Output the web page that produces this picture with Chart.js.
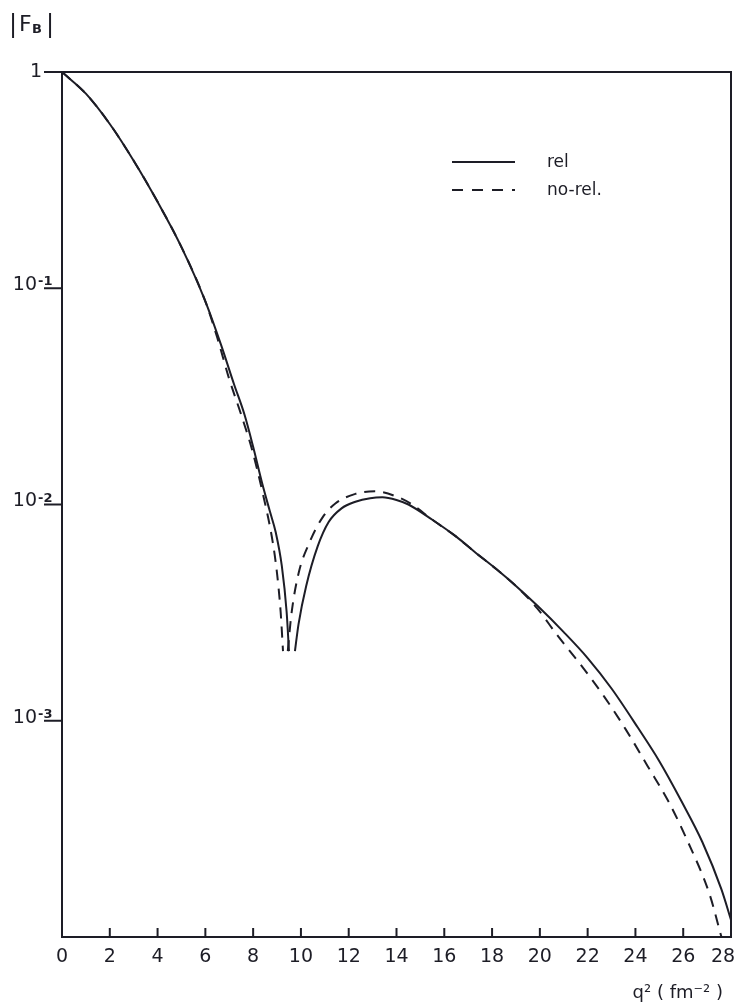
<!DOCTYPE html>
<html>
<head>
<meta charset="utf-8">
<script src="https://cdn.jsdelivr.net/npm/chart.js@4/dist/chart.umd.min.js"></script>
<style>
  html, body { margin: 0; padding: 0; background: #fff; }
  #grafico { display: block; }
</style>
</head>
<body>
<canvas id="grafico" width="734" height="1002"></canvas>
<script>
// |F_B| em função de q^2 (fm^-2), curvas relativística e não relativística

const q2Rel = [0, 1, 2, 3, 4, 5, 6, 6.65, 7.2, 7.64, 8.0, 8.38, 8.7, 8.95, 9.2, 9.4, 9.5,
    9.62, 9.75, 9.9, 10.22, 10.7, 11.16, 11.7, 12.28, 12.9, 13.41, 14.0, 14.5, 15.5, 16.5,
    17.3, 18.2, 19.0, 19.9, 21.0, 22.0, 23.0, 24.1, 25.0, 25.9, 26.8, 27.6, 28.0];
const fbRel = [1, 0.794, 0.575, 0.389, 0.251, 0.155, 0.087, 0.055, 0.036, 0.026, 0.0185, 0.0125,
    0.0093, 0.0074, 0.0052, 0.0032, 0.0021,
    null, 0.0021, 0.0028, 0.0042, 0.0064, 0.0083, 0.0096, 0.0103, 0.0107, 0.0108, 0.0105,
    0.0100, 0.0085, 0.0071, 0.0060, 0.0050, 0.0042, 0.0034, 0.00257, 0.00195, 0.00141,
    0.00093, 0.00065, 0.00043, 0.000275, 0.000166, 0.00012];

const q2NoRel = [0, 1, 2, 3, 4, 5, 6, 6.5, 7.0, 7.5, 7.95, 8.4, 8.82, 9.0, 9.15, 9.25,
    9.36, 9.45, 9.6, 9.9, 10.34, 10.9, 11.44, 12.28, 13.1, 14.08, 14.65, 15.5, 16.5, 17.3,
    18.2, 19.0, 19.9, 20.7, 21.7, 22.7, 23.6, 24.5, 25.4, 26.2, 27.1, 27.6];
const fbNoRel = [1, 0.794, 0.575, 0.389, 0.251, 0.155, 0.087, 0.059, 0.038, 0.026, 0.018, 0.0113,
    0.0067, 0.0048, 0.0032, 0.0021,
    null, 0.0021, 0.0031, 0.0048, 0.0066, 0.0087, 0.0101, 0.0112, 0.0115, 0.0108, 0.0100,
    0.0085, 0.0071, 0.0060, 0.0050, 0.0042, 0.0033, 0.00251, 0.00182, 0.00129, 0.00091,
    0.00062, 0.00042, 0.000275, 0.000158, 0.0001];

const xTicks = [0, 2, 4, 6, 8, 10, 12, 14, 16, 18, 20, 22, 24, 26, 28];
const yTicks = [1, 1e-1, 1e-2, 1e-3];
const yTickBase = ['1', '10', '10', '10'];
const yTickExp = ['', '-1', '-2', '-3'];
const legendLabels = ['rel', 'no-rel.'];

const tinta = '#1d1d26';
const fonte = '"DejaVu Sans", "Liberation Sans", sans-serif';

function pontos(xs, ys) {
    return xs.map((x, i) => ({ x: x, y: ys[i] }));
}

const decoracao = {
    id: 'decoracao',
    afterDraw(chart) {
        const ctx = chart.ctx;
        const { left, right, top, bottom } = chart.chartArea;
        const sx = chart.scales.x;
        const sy = chart.scales.y;
        ctx.save();
        ctx.strokeStyle = tinta;
        ctx.fillStyle = tinta;
        ctx.lineWidth = 2;

        // linha de cima e borda direita
        ctx.beginPath();
        ctx.moveTo(left - 12, top);
        ctx.lineTo(right, top);
        ctx.lineTo(right, bottom);
        ctx.stroke();

        // marcas e rótulos do eixo y
        yTicks.forEach((v, i) => {
            const py = sy.getPixelForValue(v);
            ctx.beginPath();
            ctx.moveTo(left - 18, py);
            ctx.lineTo(left, py);
            ctx.stroke();
            ctx.font = '19px ' + fonte;
            ctx.textBaseline = 'middle';
            if (yTickExp[i] === '') {
                ctx.textAlign = 'right';
                ctx.fillText(yTickBase[i], left - 20, py);
            } else {
                ctx.textAlign = 'right';
                ctx.fillText(yTickBase[i], left - 25, py - 3);
                ctx.font = 'bold 13px ' + fonte;
                ctx.textAlign = 'left';
                ctx.textBaseline = 'alphabetic';
                ctx.fillText(yTickExp[i], left - 24, py - 3);
            }
        });

        // marcas internas e rótulos do eixo x
        ctx.font = '19px ' + fonte;
        ctx.textAlign = 'center';
        ctx.textBaseline = 'middle';
        xTicks.forEach((v, i) => {
            const px = sx.getPixelForValue(v);
            if (v > 0 && v < 28) {
                ctx.beginPath();
                ctx.moveTo(px, bottom);
                ctx.lineTo(px, bottom - 9);
                ctx.stroke();
            }
            const desloc = i === xTicks.length - 1 ? -8 : 0;
            ctx.fillText(String(v), px + desloc, bottom + 20);
        });

        // título do eixo x
        ctx.font = '18px ' + fonte;
        ctx.textAlign = 'right';
        ctx.fillText('q² ( fm⁻² )', right - 8, bottom + 56);

        // título do eixo y
        ctx.font = '24px ' + fonte;
        ctx.textAlign = 'left';
        ctx.fillText('|', 9, 26);
        ctx.font = '22px ' + fonte;
        ctx.fillText('F', 19, 25);
        ctx.font = 'bold 13px ' + fonte;
        ctx.fillText('B', 32, 30);
        ctx.font = '24px ' + fonte;
        ctx.fillText('|', 46, 26);

        // legenda
        const lx0 = 452, lx1 = 515;
        ctx.lineWidth = 2;
        ctx.beginPath();
        ctx.moveTo(lx0, 162);
        ctx.lineTo(lx1, 162);
        ctx.stroke();
        ctx.setLineDash([11, 9]);
        ctx.beginPath();
        ctx.moveTo(lx0, 190);
        ctx.lineTo(lx1, 190);
        ctx.stroke();
        ctx.setLineDash([]);
        ctx.font = '17px ' + fonte;
        ctx.textAlign = 'left';
        ctx.fillText(legendLabels[0], 547, 163);
        ctx.fillText(legendLabels[1], 547, 191);
        ctx.restore();
    }
};

new Chart(document.getElementById('grafico'), {
    type: 'line',
    data: {
        datasets: [
            {
                label: legendLabels[0],
                data: pontos(q2Rel, fbRel),
                borderColor: tinta,
                borderWidth: 2,
                pointRadius: 0,
                cubicInterpolationMode: 'monotone',
                spanGaps: false
            },
            {
                label: legendLabels[1],
                data: pontos(q2NoRel, fbNoRel),
                borderColor: tinta,
                borderWidth: 2,
                borderDash: [11, 8],
                pointRadius: 0,
                cubicInterpolationMode: 'monotone',
                spanGaps: false
            }
        ]
    },
    options: {
        responsive: false,
        animation: false,
        devicePixelRatio: 1,
        layout: { padding: { left: 62, top: 72, right: 3, bottom: 65 } },
        plugins: { legend: { display: false }, tooltip: { enabled: false } },
        scales: {
            x: {
                type: 'linear',
                min: 0,
                max: 28,
                ticks: { display: false },
                grid: { display: false, drawTicks: false },
                border: { display: true, color: tinta, width: 2 },
                afterFit(s) { s.height = 0; s.paddingLeft = 0; s.paddingRight = 0; }
            },
            y: {
                type: 'logarithmic',
                min: 1e-4,
                max: 1,
                ticks: { display: false },
                grid: { display: false, drawTicks: false },
                border: { display: true, color: tinta, width: 2 },
                afterFit(s) { s.width = 0; s.paddingTop = 0; s.paddingBottom = 0; }
            }
        }
    },
    plugins: [decoracao]
});
</script>
</body>
</html>
